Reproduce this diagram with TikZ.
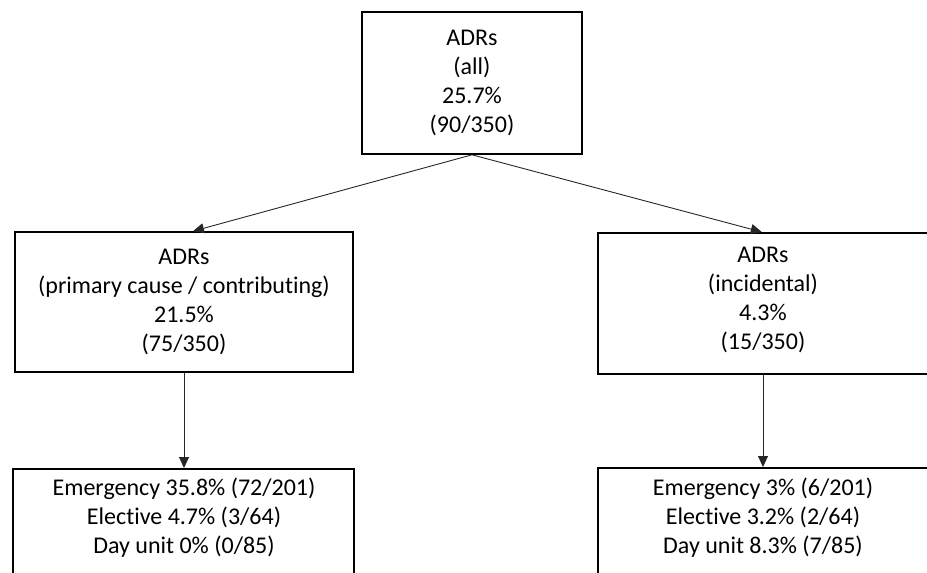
\documentclass[tikz,border=0pt]{standalone}
\usepackage{fontspec}
\setmainfont[Ligatures={NoCommon}]{Carlito}
\usetikzlibrary{arrows.meta}
\begin{document}
\begin{tikzpicture}[x=1pt,y=-1pt,
  box/.style={draw=black, line width=1.6pt, rectangle, inner sep=0pt, align=center,
    font=\fontsize{24}{29}\selectfont},
  txt/.style={inner sep=0pt, align=center, font=\fontsize{24}{29}\selectfont},
  conn/.style={draw=black!85, line width=0.9pt, -{Triangle[length=11pt,width=10pt]}, shorten >=0pt}]
\useasboundingbox (0,0) rectangle (927,573);
\clip (0,0) rectangle (927,573);
\node[box, minimum width=220, minimum height=142] (top) at (472,83) {ADRs\\(all)\\25.7\%\\(90/350)};
\node[box, minimum width=338, minimum height=140] (lm) at (184,302) {ADRs\\(primary cause / contributing)\\21.5\%\\(75/350)};
\node[box, minimum width=340, minimum height=141, anchor=north west] (rm) at (597,232) {};
\node[txt] (rmt) at (763,300) {ADRs\\(incidental)\\4.3\%\\(15/350)};
\node[box, minimum width=341, minimum height=150, anchor=north west] (bl) at (12,468) {};
\node[txt] (blt) at (184,518) {Emergency 35.8\% (72/201)\\Elective 4.7\% (3/64)\\Day unit 0\% (0/85)};
\node[box, minimum width=340, minimum height=150, anchor=north west] (br) at (597,467) {};
\node[txt] (brt) at (763,518) {Emergency 3\% (6/201)\\Elective 3.2\% (2/64)\\Day unit 8.3\% (7/85)};
\draw[conn] (top.south) -- ([xshift=9pt]lm.north);
\draw[conn] (top.south) -- ([xshift=-6pt]rm.north);
\draw[conn] (lm.south) -- (lm.south |- bl.north);
\draw[conn] (rmt.center |- rm.south) -- (rmt.center |- br.north);
\end{tikzpicture}
\end{document}
